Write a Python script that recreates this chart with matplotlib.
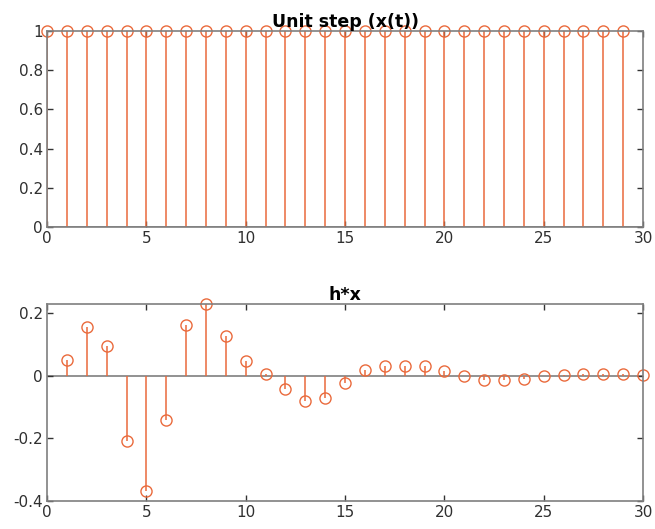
import numpy as np
import matplotlib
matplotlib.use("Agg")
import matplotlib.pyplot as plt

# unit step input
n_x = list(range(0, 30))
x_vals = [1.0] * 30

# convolution output h*x
n_y = list(range(1, 31))
y_vals = [0.050, 0.156, 0.095, -0.208, -0.367, -0.142, 0.161, 0.228, 0.126, 0.047,
          0.006, -0.042, -0.081, -0.073, -0.023, 0.017, 0.029, 0.029, 0.029, 0.016,
          -0.002, -0.014, -0.014, -0.011, -0.002, 0.002, 0.006, 0.006, 0.004, 0.002]

xticks = [0, 5, 10, 15, 20, 25, 30]
yticks_top = [0, 0.2, 0.4, 0.6, 0.8, 1]
yticks_bot = [-0.4, -0.2, 0, 0.2]

ORANGE = '#EA6A3C'
GREY = '#7f7f7f'

fig = plt.figure(figsize=(6.55, 5.29), dpi=100)
ax1 = fig.add_axes([0.0718, 0.571, 0.910, 0.3705])
ax2 = fig.add_axes([0.0718, 0.0529, 0.910, 0.3724])


def style(ax, title, yticks):
    for s in ax.spines.values():
        s.set_color(GREY)
        s.set_linewidth(1.2)
    ax.set_xlim(0, 30)
    ax.set_xticks(xticks)
    ax.set_xticklabels([f'{t:g}' for t in xticks])
    ax.set_yticks(yticks)
    ax.set_yticklabels([f'{t:g}' for t in yticks])
    ax.tick_params(direction='in', top=True, right=True, length=4, width=1,
                   color='#333333', labelsize=11, labelcolor='#303030', pad=3)
    ax.set_title(title, fontsize=12.5, fontweight='bold', pad=3)


def stemplot(ax, n, v):
    ml, sl, bl = ax.stem(n, v, linefmt='-', markerfmt='o', basefmt=' ')
    ml.set_markerfacecolor('none')
    ml.set_markeredgecolor(ORANGE)
    ml.set_markersize(8)
    ml.set_markeredgewidth(1.0)
    ml.set_clip_on(False)
    sl.set_color(ORANGE)
    sl.set_linewidth(1.1)
    ax.axhline(0, color=GREY, linewidth=1.2, zorder=1)


stemplot(ax1, n_x, x_vals)
style(ax1, 'Unit step (x(t))', yticks_top)
ax1.set_ylim(0, 1)

stemplot(ax2, n_y, y_vals)
style(ax2, 'h*x', yticks_bot)
ax2.set_ylim(-0.4, max(y_vals))

fig.savefig('out.png', dpi=100)
